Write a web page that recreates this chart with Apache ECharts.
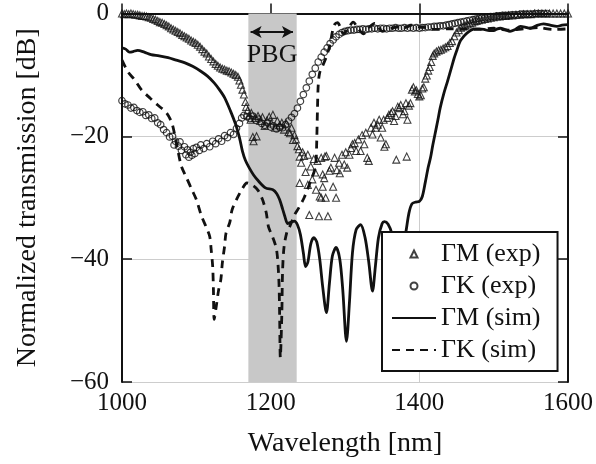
<!DOCTYPE html>
<html><head><meta charset="utf-8">
<script src="https://cdn.jsdelivr.net/npm/echarts@6/dist/echarts.min.js"></script>
<style>html,body{margin:0;padding:0;background:#fff}#c{width:596px;height:464px}</style>
</head><body><div id="c"></div>
<script>
const xTicks = [1000, 1200, 1400, 1600];
const yTicks = [-60, -40, -20, 0];
const seriesNames = ['ΓM (exp)', 'ΓK (exp)', 'ΓM (sim)', 'ΓK (sim)'];
const pbgBand = [1170, 1235];
const pbgArrow = [[1173, -3.0], [1230, -3.0]];
const pbgLabel = [1202, -6.8];

const gmExp = [
[1000,0],[1003,-0.1],[1006,0],[1009,-0.1],[1012,0],[1015,-0.1],[1018,-0.2],[1021,-0.2],[1024,-0.3],[1027,-0.4],
[1030,-0.4],[1033,-0.5],[1036,-0.6],[1039,-0.7],[1042,-0.9],[1045,-1.0],[1048,-1.2],[1051,-1.4],[1054,-1.5],[1057,-1.7],
[1060,-1.9],[1063,-2.1],[1066,-2.4],[1069,-2.6],[1072,-2.8],[1075,-3.0],[1078,-3.2],[1081,-3.5],[1084,-3.7],[1087,-3.9],
[1090,-4.1],[1093,-4.4],[1096,-4.6],[1099,-4.8],[1102,-5.1],[1105,-5.4],[1108,-5.8],[1111,-6.2],[1114,-6.5],[1117,-7.0],
[1120,-7.4],[1123,-7.8],[1126,-8.2],[1129,-8.5],[1132,-8.8],[1135,-9.0],[1138,-9.1],[1141,-9.3],[1144,-9.4],[1147,-9.6],
[1150,-9.8],[1153,-10.0],[1156,-10.3],[1158,-10.9],[1160,-11.6],[1162,-12.4],[1164,-13.2],[1166,-14.4],[1167,-15.2],[1169,-15.8],
[1171,-16.6],[1173,-17.3],[1174,-16.2],[1176,-20.1],[1177,-20.8],[1179,-17.0],[1181,-20.0],[1183,-16.7],[1186,-17.5],[1189,-16.9],
[1192,-18.3],[1195,-17.4],[1198,-16.8],[1201,-17.9],[1203,-16.5],[1206,-18.6],[1209,-17.5],[1212,-18.2],[1215,-17.8],[1218,-18.9],
[1221,-17.9],[1224,-19.3],[1226,-19.5],[1228,-18.6],[1230,-20.6],[1232,-19.8],[1234,-20.5],[1236,-21.6],[1238,-22.1],[1239,-23.3],
[1239,-27.6],[1241,-24.3],[1243,-22.6],[1245,-23.2],[1247,-25.8],[1250,-23.0],[1250,-27.9],[1252,-32.8],[1254,-24.9],[1256,-27.0],
[1258,-23.7],[1260,-25.9],[1261,-28.7],[1263,-24.0],[1265,-33.0],[1266,-29.8],[1268,-30.0],[1268,-23.5],[1270,-26.2],[1270,-28.2],
[1272,-26.8],[1273,-23.3],[1274,-30.0],[1275,-23.2],[1277,-33.0],[1279,-25.6],[1281,-25.1],[1284,-28.2],[1286,-23.5],[1288,-30.0],
[1289,-25.5],[1292,-24.3],[1293,-26.0],[1296,-23.0],[1299,-24.6],[1301,-22.6],[1303,-25.1],[1306,-23.0],[1308,-21.9],[1310,-21.3],
[1313,-21.1],[1315,-22.4],[1318,-20.5],[1321,-22.4],[1323,-19.8],[1326,-21.3],[1328,-19.4],[1330,-23.5],[1332,-24.0],[1335,-18.6],
[1337,-19.7],[1339,-17.8],[1341,-18.6],[1344,-18.1],[1346,-17.3],[1348,-20.2],[1350,-18.6],[1352,-17.3],[1353,-21.7],[1355,-21.3],
[1357,-17.0],[1359,-16.5],[1362,-16.2],[1364,-15.9],[1366,-17.5],[1368,-16.7],[1369,-23.8],[1371,-15.2],[1373,-15.4],[1375,-14.9],
[1378,-16.4],[1380,-15.9],[1382,-14.6],[1383,-23.3],[1384,-17.3],[1386,-15.0],[1388,-14.6],[1390,-12.4],[1392,-12.0],[1394,-12.7],
[1396,-12.5],[1398,-13.1],[1400,-13.5],[1402,-13.3],[1404,-12.2],[1406,-12.0],[1408,-10.6],[1410,-10.1],[1412,-9.3],[1414,-8.7],
[1416,-7.9],[1418,-6.9],[1420,-6.5],[1423,-6.2],[1426,-6.0],[1429,-5.9],[1432,-5.7],[1435,-5.5],[1438,-5.3],[1441,-4.8],
[1444,-4.5],[1447,-3.7],[1450,-3.1],[1453,-2.7],[1456,-2.3],[1459,-2.1],[1462,-2.0],[1465,-1.8],[1468,-1.6],[1471,-1.5],
[1474,-1.3],[1477,-1.2],[1480,-1.1],[1484,-1.0],[1488,-0.9],[1492,-0.8],[1496,-0.7],[1500,-0.6],[1504,-0.5],[1508,-0.5],
[1512,-0.4],[1516,-0.4],[1520,-0.3],[1525,-0.3],[1530,-0.2],[1535,-0.2],[1540,-0.1],[1545,-0.1],[1550,-0.1],[1555,0],
[1560,0],[1565,0],[1570,0],[1575,0],[1580,0],[1585,0],[1590,0],[1595,0],[1600,0]
];

const gkExp = [
[1000,-14.2],[1004,-14.7],[1008,-14.9],[1012,-15.4],[1016,-15.3],[1020,-15.8],[1024,-16.1],[1028,-16.0],[1032,-16.6],[1036,-16.5],
[1040,-17.1],[1044,-17.0],[1048,-17.8],[1052,-18.1],[1056,-18.9],[1060,-19.4],[1064,-20.1],[1068,-20.0],[1070,-21.4],[1072,-20.8],
[1076,-21.6],[1078,-20.9],[1080,-22.3],[1084,-21.7],[1086,-23.0],[1088,-22.2],[1090,-23.4],[1092,-22.6],[1094,-23.1],[1096,-22.0],
[1098,-22.8],[1100,-21.8],[1104,-22.3],[1106,-21.4],[1110,-22.0],[1114,-21.2],[1118,-21.7],[1122,-20.8],[1126,-21.2],[1130,-20.4],
[1134,-20.8],[1138,-19.9],[1142,-20.2],[1146,-19.4],[1150,-19.7],[1154,-18.7],[1158,-17.9],[1161,-17.0],[1164,-16.6],[1168,-16.8],
[1172,-17.1],[1176,-16.7],[1180,-17.4],[1184,-17.2],[1188,-17.9],[1192,-18.2],[1196,-17.8],[1200,-18.5],[1204,-18.3],[1208,-18.8],
[1212,-18.5],[1216,-18.6],[1220,-18.1],[1224,-17.5],[1228,-16.9],[1232,-16.3],[1236,-15.4],[1240,-14.3],[1244,-13.2],[1248,-12.1],
[1252,-11.0],[1256,-9.9],[1260,-8.9],[1264,-7.9],[1268,-7.1],[1272,-6.3],[1276,-5.6],[1280,-4.9],[1284,-4.3],[1288,-3.8],
[1292,-3.4],[1296,-3.1],[1300,-2.9],[1304,-2.8],[1308,-2.7],[1312,-2.7],[1316,-2.6],[1320,-2.6],[1324,-2.5],[1328,-2.6],
[1332,-2.5],[1336,-2.5],[1340,-2.4],[1344,-2.5],[1348,-2.4],[1352,-2.4],[1356,-2.5],[1360,-2.4],[1364,-2.4],[1368,-2.3],
[1372,-2.4],[1376,-2.4],[1380,-2.3],[1384,-2.4],[1388,-2.3],[1392,-2.4],[1396,-2.3],[1400,-2.4],[1404,-2.3],[1408,-2.3],
[1412,-2.2],[1416,-2.2],[1420,-2.1],[1424,-2.1],[1428,-2.0],[1432,-2.0],[1436,-1.9],[1440,-1.8],[1444,-1.7],[1448,-1.6],
[1452,-1.5],[1456,-1.4],[1460,-1.3],[1464,-1.2],[1468,-1.1],[1472,-1.0],[1476,-0.9],[1480,-0.8],[1484,-0.7],[1488,-0.7],
[1492,-0.6],[1496,-0.5],[1500,-0.5],[1504,-0.4],[1508,-0.4],[1512,-0.3],[1516,-0.3],[1520,-0.3],[1524,-0.2],[1528,-0.2],
[1532,-0.2],[1536,-0.1],[1540,-0.1],[1544,-0.1],[1548,-0.1],[1552,-0.1],[1556,0],[1560,0],[1564,0],[1568,0],
[1572,0],[1576,0.1],[1580,0.1],[1584,0.1],[1588,0.1],[1592,0.1],[1596,0.1],[1600,0.1]
];

const gmSim = [
[1000,-5.6],[1005,-5.8],[1010,-6.3],[1015,-6.2],[1021,-6.0],[1030,-6.3],[1039,-6.7],[1050,-6.9],[1062,-7.2],[1073,-7.6],
[1084,-8.0],[1095,-8.6],[1106,-9.4],[1115,-10.2],[1124,-11.3],[1131,-12.4],[1138,-13.7],[1146,-15.9],[1153,-18.1],[1158,-20.2],
[1162,-22.4],[1166,-23.9],[1171,-25.1],[1177,-26.3],[1183,-27.2],[1193,-28.4],[1203,-28.7],[1208,-29.3],[1212,-30.3],[1216,-31.8],
[1219,-33.0],[1223,-34.2],[1227,-34.0],[1232,-33.8],[1236,-34.4],[1240,-36.0],[1244,-39.0],[1247,-41.2],[1250,-40.5],[1254,-37.5],
[1258,-36.5],[1262,-37.2],[1266,-40.0],[1270,-44.5],[1275,-48.7],[1279,-44.0],[1283,-39.5],[1288,-38.1],[1293,-40.0],[1297,-45.0],
[1302,-53.4],[1306,-47.0],[1310,-39.0],[1315,-35.2],[1321,-34.4],[1327,-36.5],[1332,-40.5],[1337,-45.2],[1341,-41.0],[1345,-36.5],
[1350,-34.2],[1353,-33.9],[1358,-34.3],[1363,-35.8],[1368,-38.5],[1373,-40.0],[1378,-38.0],[1382,-35.5],[1386,-32.5],[1390,-31.0],
[1395,-30.7],[1400,-30.6],[1404,-29.8],[1408,-27.5],[1412,-25.0],[1415,-23.5],[1418,-21.5],[1421,-19.7],[1425,-17.3],[1428,-15.4],
[1433,-13.0],[1438,-11.0],[1443,-8.9],[1447,-7.2],[1451,-5.8],[1455,-4.5],[1460,-3.7],[1464,-3.2],[1470,-2.7],[1475,-2.5],
[1481,-2.5],[1487,-2.6],[1494,-2.8],[1500,-2.8],[1505,-2.5],[1509,-2.4],[1515,-2.6],[1522,-2.9],[1529,-2.6],[1536,-2.1],
[1542,-2.2],[1549,-2.4],[1557,-2.0],[1567,-1.7],[1576,-1.9],[1585,-2.1],[1592,-1.9],[1600,-1.8]
];

const gkSim = [
[1000,-7.6],[1008,-9.5],[1017,-10.8],[1026,-12.4],[1038,-13.8],[1048,-14.9],[1060,-16.2],[1067,-17.8],[1071,-19.8],[1075,-22.2],
[1080,-24.9],[1087,-26.8],[1094,-28.7],[1100,-30.3],[1107,-33.0],[1113,-34.7],[1118,-36.3],[1120,-38.5],[1122,-41.2],[1123,-45.0],
[1124,-49.8],[1127,-47.5],[1130,-45.0],[1133,-43.3],[1135,-40.6],[1138,-37.9],[1140,-35.7],[1145,-34.0],[1148,-32.0],[1154,-30.3],
[1162,-28.5],[1168,-27.6],[1176,-28.0],[1183,-28.8],[1189,-30.3],[1194,-32.4],[1197,-34.7],[1203,-36.5],[1208,-38.5],[1211,-43.3],
[1212,-48.7],[1213,-56.0],[1215,-49.0],[1216,-42.0],[1218,-38.0],[1222,-35.5],[1225,-34.9],[1228,-34.0],[1232,-32.8],[1238,-31.6],
[1245,-30.0],[1250,-28.5],[1254,-27.2],[1259,-25.6],[1261,-24.0],[1262,-20.7],[1263,-15.4],[1264,-11.6],[1266,-9.6],[1270,-8.5],
[1275,-7.0],[1280,-5.0],[1283,-3.0],[1286,-1.8],[1290,-1.5],[1294,-2.3],[1298,-3.3],[1304,-2.5],[1311,-1.4],[1318,-2.5],
[1325,-3.3],[1332,-2.3],[1340,-1.6],[1345,-2.2],[1350,-2.9],[1360,-2.5],[1370,-2.2],[1380,-2.3],[1390,-1.9],[1400,-2.2],
[1410,-2.3],[1420,-2.6],[1440,-2.5],[1460,-2.5],[1480,-2.6],[1500,-2.4],[1520,-2.7],[1540,-2.5],[1560,-2.3],[1580,-2.6],
[1600,-2.5]
];

const F = '"Liberation Serif", "Times New Roman", serif';
const TXT = '#111';
const chart = echarts.init(document.getElementById('c'), null, {renderer: 'canvas'});

function frameAxis(extra) {
  return Object.assign({
    type: 'value',
    axisLine: {show: true, lineStyle: {color: '#111', width: 2}},
    axisTick: {show: true, inside: true, length: 10, lineStyle: {color: '#111', width: 1.5}},
    splitLine: {show: false},
    axisLabel: {show: false}
  }, extra);
}
const minus = v => (v < 0 ? '\u2212' + (-v) : String(v));
const plain = v => String(v);
const hiddenSym = {color: 'rgba(0,0,0,0)', borderWidth: 0};

const option = {
  animation: false,
  backgroundColor: '#fff',
  grid: {left: 122, right: 27, top: 13.5, bottom: 82},
  xAxis: [
    frameAxis({
      position: 'bottom', min: xTicks[0], max: xTicks[xTicks.length - 1], interval: xTicks[1] - xTicks[0],
      axisLabel: {show: true, fontFamily: F, fontSize: 25, color: TXT, margin: 9, formatter: plain},
      splitLine: {show: true, lineStyle: {color: '#cdcdcd', width: 1}},
      name: 'Wavelength [nm]', nameLocation: 'middle', nameGap: 48,
      nameTextStyle: {fontFamily: F, fontSize: 28, color: TXT}
    }),
    frameAxis({position: 'top', min: xTicks[0], max: xTicks[xTicks.length - 1], interval: xTicks[1] - xTicks[0]})
  ],
  yAxis: [
    frameAxis({
      position: 'left', min: yTicks[0], max: yTicks[yTicks.length - 1], interval: yTicks[1] - yTicks[0],
      axisLabel: {show: true, fontFamily: F, fontSize: 25, color: TXT, margin: 13, formatter: minus},
      splitLine: {show: true, lineStyle: {color: '#cdcdcd', width: 1}},
      name: 'Normalized transmission [dB]', nameLocation: 'middle', nameGap: 80, nameRotate: 90,
      nameTextStyle: {fontFamily: F, fontSize: 28, color: TXT}
    }),
    frameAxis({position: 'right', min: yTicks[0], max: yTicks[yTicks.length - 1], interval: yTicks[1] - yTicks[0]})
  ],
  legend: {
    orient: 'vertical', left: 382, top: 232,
    data: [
      {name: seriesNames[0], icon: 'path://M0,-1L1,1L-1,1Z'},
      {name: seriesNames[1], icon: 'circle'},
      {name: seriesNames[2]},
      {name: seriesNames[3]}
    ],
    itemWidth: 44, itemHeight: 7, itemGap: 6, itemTextGap: 8,
    symbolKeepAspect: true,
    padding: [9, 17, 8, 9],
    backgroundColor: '#fff', borderColor: '#111', borderWidth: 2, borderRadius: 0,
    textStyle: {fontFamily: F, fontSize: 26, color: TXT, lineHeight: 26},
    z: 10
  },
  series: [
    {
      name: 'pbg', type: 'line', data: [], silent: true, z: 0,
      markArea: {silent: true, itemStyle: {color: '#c8c8c8', opacity: 1}, label: {show: false},
        data: [[{xAxis: pbgBand[0]}, {xAxis: pbgBand[1]}]]},
      markLine: {silent: true, symbol: ['arrow', 'arrow'], symbolSize: [9, 11],
        lineStyle: {color: '#111', width: 2, type: 'solid'}, label: {show: false},
        data: [[{coord: pbgArrow[0]}, {coord: pbgArrow[1]}]]},
      markPoint: {silent: true, symbol: 'circle', symbolSize: 1, itemStyle: {color: 'rgba(0,0,0,0)'},
        label: {show: true, position: 'inside', formatter: 'PBG', fontFamily: F, fontSize: 26, color: TXT},
        data: [{coord: pbgLabel}]}
    },
    {
      name: seriesNames[1], type: 'scatter', data: gkExp, symbol: 'circle', symbolSize: 6.5, z: 3,
      itemStyle: {color: 'rgba(255,255,255,0)', borderColor: '#111', borderWidth: 1.2}
    },
    {
      name: seriesNames[0], type: 'scatter', data: gmExp, symbol: 'triangle', symbolSize: 7, z: 3,
      itemStyle: {color: 'rgba(255,255,255,0)', borderColor: '#111', borderWidth: 1.1}
    },
    {
      name: seriesNames[2], type: 'line', data: gmSim, symbol: 'none', smooth: 0.3, z: 4,
      itemStyle: hiddenSym,
      lineStyle: {color: '#111', width: 2.8}
    },
    {
      name: seriesNames[3], type: 'line', data: gkSim, symbol: 'none', smooth: 0.3, z: 4,
      itemStyle: hiddenSym,
      lineStyle: {color: '#111', width: 2.8, type: [8, 6]}
    }
  ]
};
chart.setOption(option);
</script></body></html>
